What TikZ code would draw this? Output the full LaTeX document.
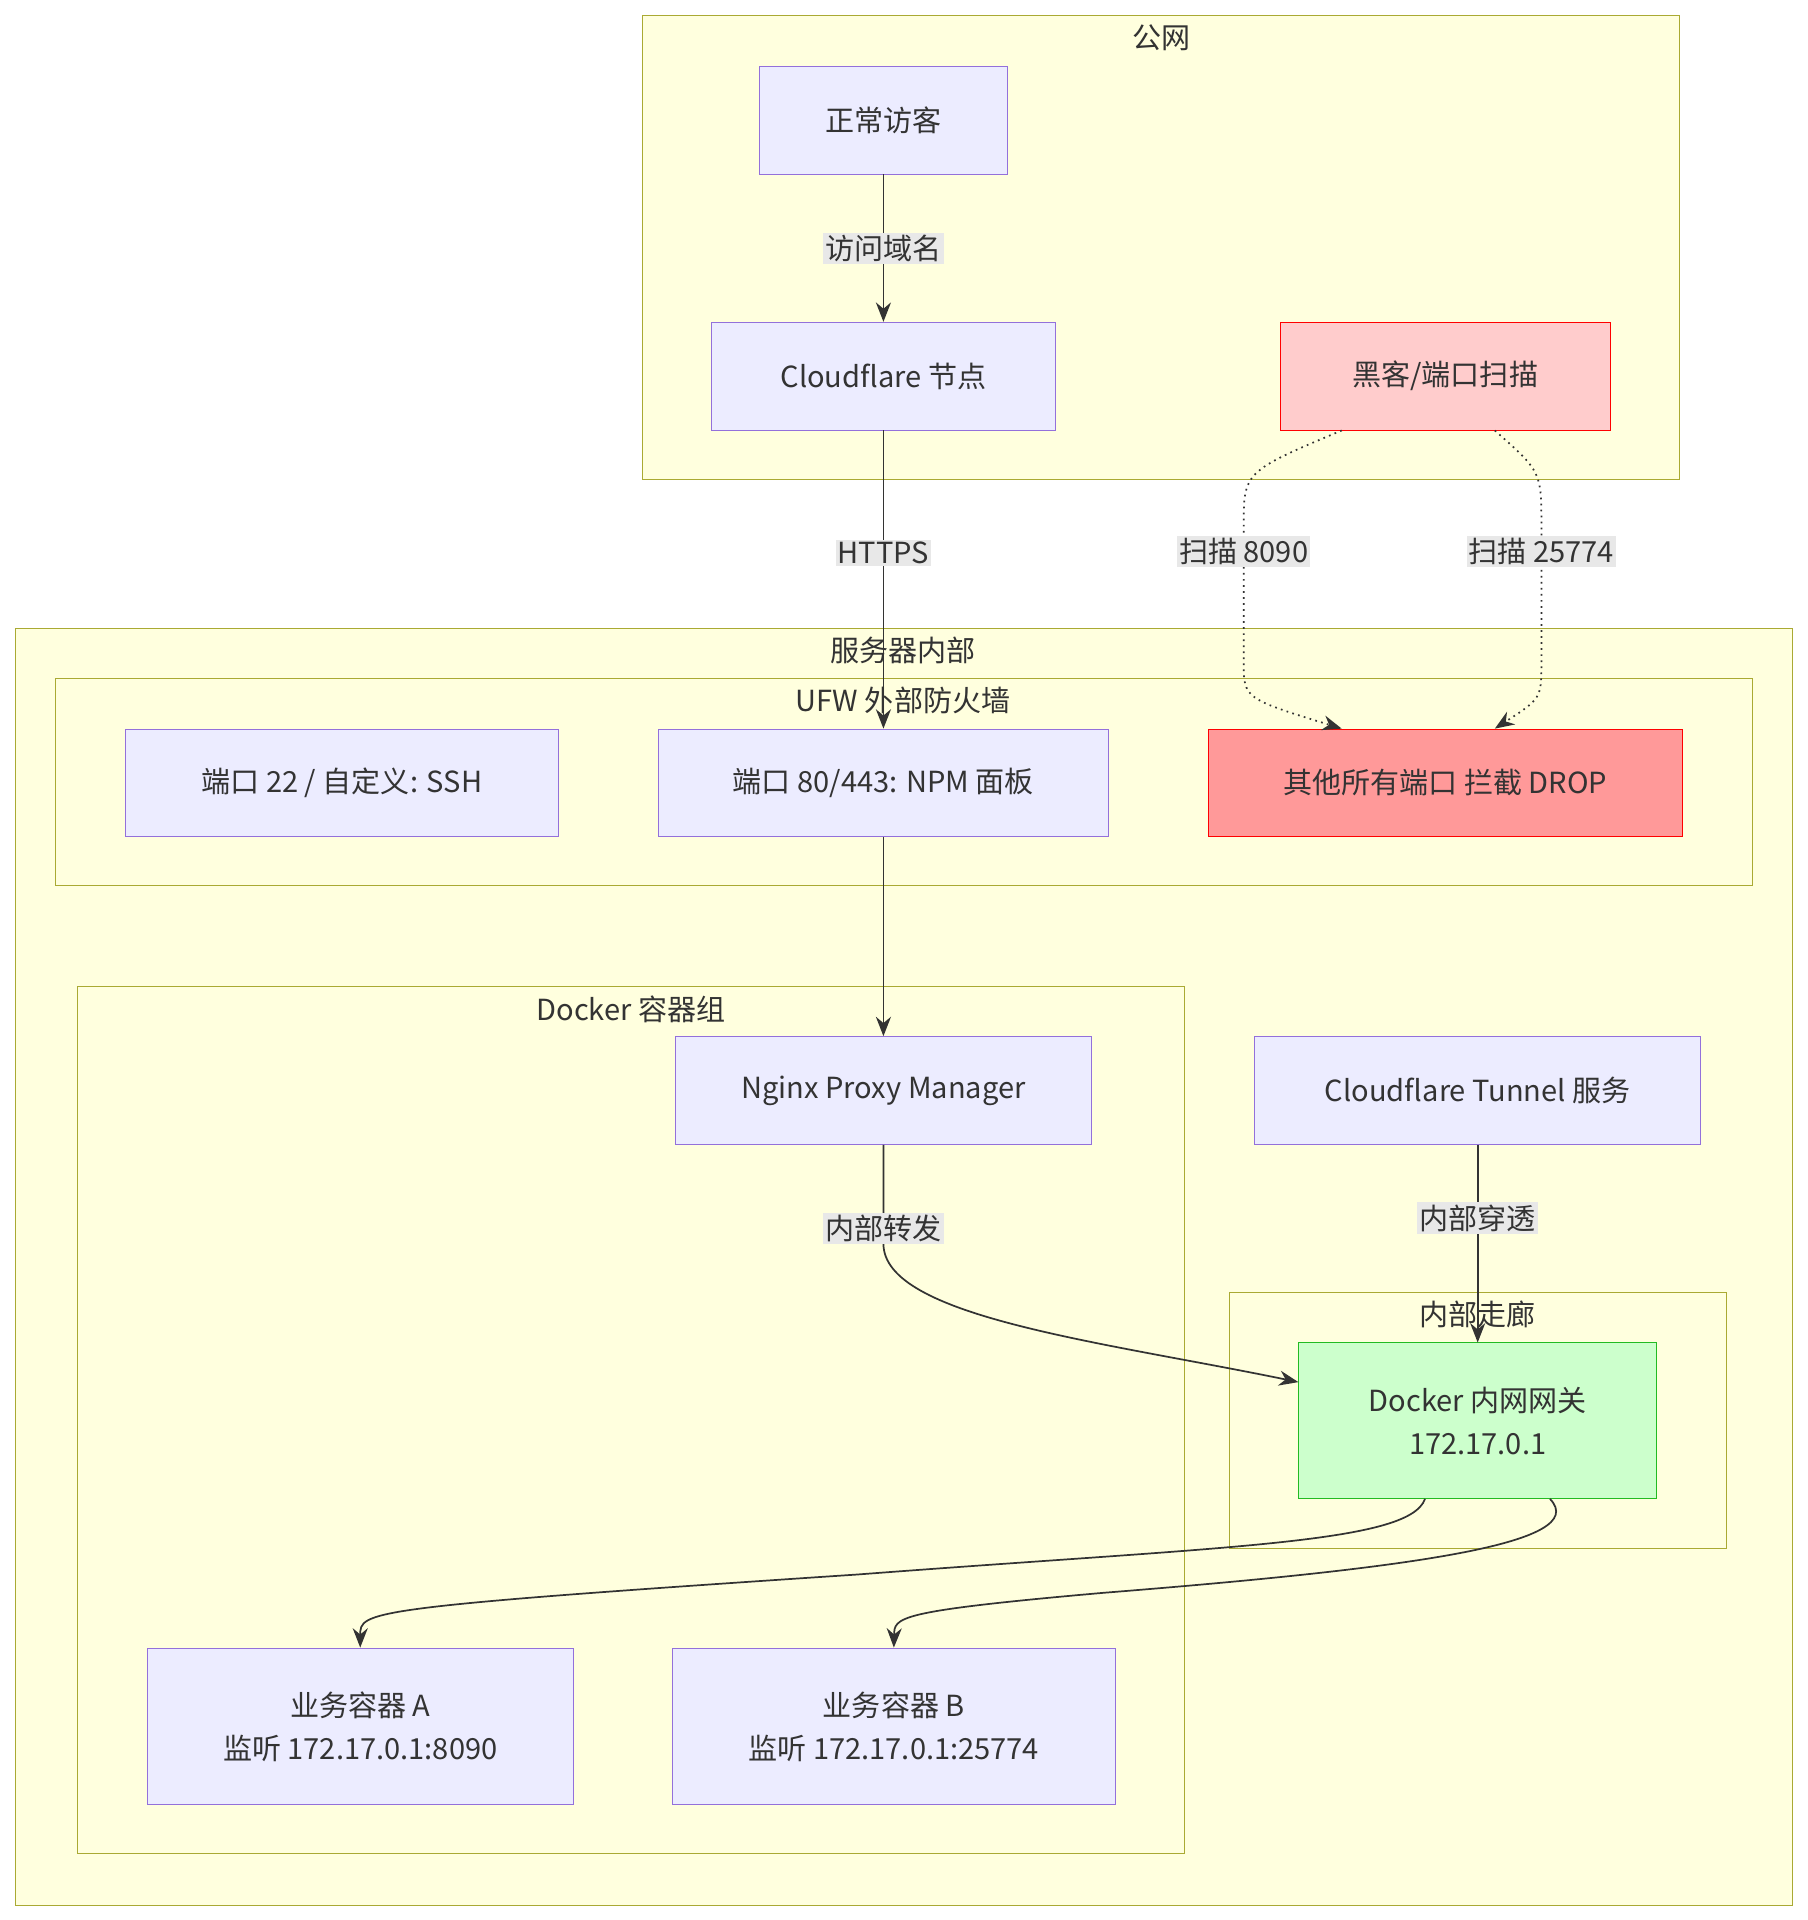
\documentclass[tikz,border=0pt]{standalone}
\usepackage{fontspec}
\setmainfont{Noto Sans CJK SC}
\usetikzlibrary{arrows.meta,calc,positioning}
\definecolor{nodefill}{HTML}{ECECFF}
\definecolor{nodeline}{HTML}{9370DB}
\definecolor{clusterfill}{HTML}{FFFFDE}
\definecolor{clusterline}{HTML}{AAAA33}
\definecolor{hackfill}{HTML}{FFCCCC}
\definecolor{dropfill}{HTML}{FF9999}
\definecolor{gwfill}{HTML}{CCFFCC}
\definecolor{gwline}{HTML}{22BB22}
\definecolor{lblfill}{HTML}{E8E8E8}
\tikzstyle{box} = [draw=nodeline, fill=nodefill, minimum height=1.76cm, align=center, text=black!80, font=\fontsize{13.5}{20}\selectfont]
\tikzstyle{cluster} = [draw=clusterline, fill=clusterfill]
\tikzstyle{ctitle} = [text=black!80, font=\fontsize{13.5}{16}\selectfont]
\tikzstyle{elabel} = [fill=lblfill, inner sep=1pt, text=black!80, font=\fontsize{13.5}{16}\selectfont]
\tikzstyle{arrow} = [draw=black!80, line width=0.8pt, -{Stealth[length=9pt,width=7pt]}]
\begin{document}
\begin{tikzpicture}[x=0.02cm, y=-0.02cm]
\useasboundingbox (0,0) rectangle (1475,1567);
% clusters
\draw[cluster] (524,13) rectangle (1371,391);
\node[ctitle] (tpub) at (948,31) {公网};
\draw[cluster] (13,513) rectangle (1463,1555);
\node[ctitle] (tsrv) at (737,531) {服务器内部};
\draw[cluster] (45,554) rectangle (1430,723);
\node[ctitle] (tufw) at (737,572) {UFW 外部防火墙};
\draw[cluster] (63,805) rectangle (967,1513);
\node[ctitle] (tdock) at (515,824) {Docker 容器组};
\draw[cluster] (1003,1055) rectangle (1409,1264);
\node[ctitle] (thall) at (1206,1073) {内部走廊};
% nodes
\node[box, minimum width=4.04cm] (visitor) at (721,98) {正常访客};
\node[box, minimum width=5.6cm] (cf) at (721,307) {Cloudflare 节点};
\node[box, minimum width=5.38cm, draw=red, fill=hackfill] (hacker) at (1179.5,307) {黑客/端口扫描};
\node[box, minimum width=7.08cm] (ssh) at (279,639) {端口 22 / 自定义: SSH};
\node[box, minimum width=7.36cm] (web) at (721,639) {端口 80/443: NPM 面板};
\node[box, minimum width=7.74cm, draw=red, fill=dropfill] (drop) at (1179.5,639) {其他所有端口 拦截 DROP};
\node[box, minimum width=6.8cm] (npm) at (721,890) {Nginx Proxy Manager};
\node[box, minimum width=7.28cm] (tunnel) at (1206,890) {Cloudflare Tunnel 服务};
\node[box, minimum width=5.84cm, minimum height=2.54cm, draw=gwline, fill=gwfill] (gw) at (1206,1159.5) {Docker 内网网关\\172.17.0.1};
\node[box, minimum width=6.96cm, minimum height=2.56cm] (appa) at (294,1409) {业务容器 A\\监听 172.17.0.1:8090};
\node[box, minimum width=7.22cm, minimum height=2.56cm] (appb) at (729.5,1409) {业务容器 B\\监听 172.17.0.1:25774};
% connectors
\draw[arrow] (visitor) -- node[elabel] {访问域名} (cf);
\draw[arrow] (cf) -- node[elabel, pos=0.41] {HTTPS} (web);
\draw[arrow] (web) -- (npm);
\draw[arrow] (tunnel) -- node[elabel, pos=0.37] {内部穿透} (gw);
\coordinate (h1) at ($(hacker.south)+(-84.5,0)$);
\coordinate (h2) at ($(hacker.south)+(40.5,0)$);
\coordinate (d1) at ($(drop.north)+(-84.5,0)$);
\coordinate (d2) at ($(drop.north)+(40.5,0)$);
\draw[arrow, dotted] (h1) .. controls (1015,385) .. (1015,430) -- node[elabel, pos=0.18, solid] {扫描 8090} (1015,540) .. controls (1015,570) .. (d1);
\draw[arrow, dotted] (h2) .. controls (1258,385) .. (1258,430) -- node[elabel, pos=0.18] {扫描 25774} (1258,540) .. controls (1258,570) .. (d2);
\draw[arrow] (npm.south) -- node[elabel, pos=0.85] {内部转发} (721,1015) .. controls (721,1075) and (900,1095) .. (gw.west |- 1060,1128);
\coordinate (g1) at ($(gw.south)+(-43,0)$);
\coordinate (g2) at ($(gw.south)+(59,0)$);
\draw[arrow] (g1) .. controls (1150,1260) and (1000,1262) .. (700,1285) .. controls (294,1312) and (294,1315) .. (appa.north);
\draw[arrow] (g2) .. controls (1300,1260) and (1150,1280) .. (900,1300) .. controls (730,1315) and (730,1320) .. (appb.north);
\end{tikzpicture}
\end{document}
